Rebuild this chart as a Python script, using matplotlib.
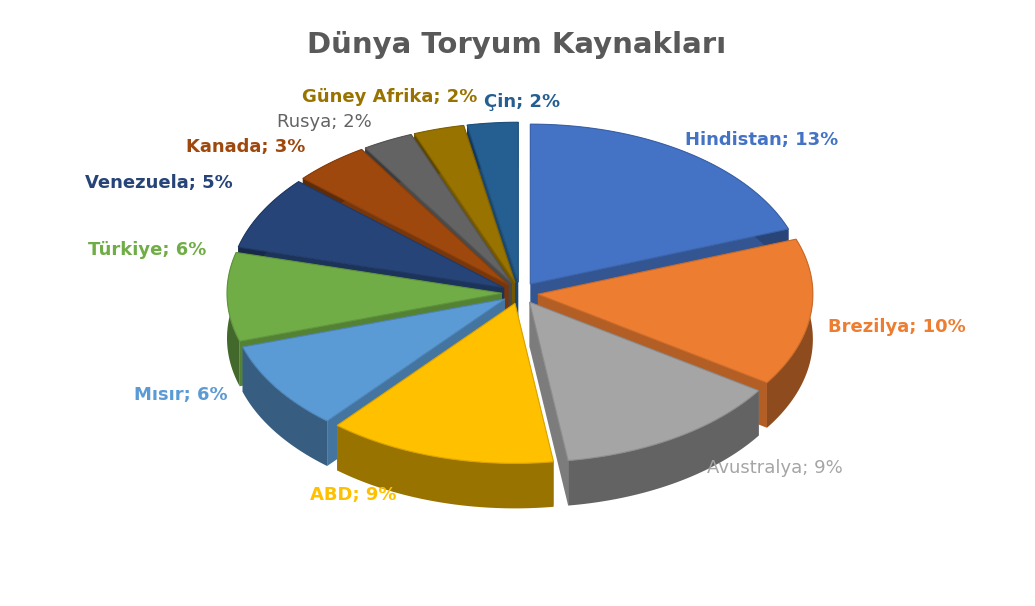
import numpy as np
import matplotlib
matplotlib.use('Agg')
import matplotlib.pyplot as plt
from matplotlib.patches import Polygon
from matplotlib.colors import to_rgb

countries = ['Hindistan', 'Brezilya', 'Avustralya', 'ABD', 'Mısır', 'Türkiye',
             'Venezuela', 'Kanada', 'Rusya', 'Güney Afrika', 'Çin']
shares = [13, 10, 9, 9, 6, 6, 5, 3, 2, 2, 2]
colors = ['#4472C4', '#ED7D31', '#A5A5A5', '#FFC000', '#5B9BD5', '#70AD47',
          '#264478', '#9E480E', '#636363', '#997300', '#255E91']
# label anchor positions (pixels) and alignment
label_pos = [(685, 140, 'left'), (828, 327, 'left'), (707, 468, 'left'),
             (310, 495, 'left'), (228, 395, 'right'), (206, 250, 'right'),
             (233, 183, 'right'), (305, 147, 'right'), (372, 122, 'right'),
             (477, 97, 'right'), (484, 102, 'left')]

fig = plt.figure(figsize=(10.35, 6.06), dpi=100)
ax = fig.add_axes([0, 0, 1, 1])
ax.set_xlim(0, 1035)
ax.set_ylim(606, 0)
ax.axis('off')

cx, cy = 520, 293
rx, ry = 275, 160
depth = 45
explode = 18


def darker(c, f):
    r, g, b = to_rgb(c)
    return (r * f, g * f, b * f)


total = sum(shares)
angles = []
a = 90.0
for s in shares:
    span = 360.0 * s / total
    angles.append((a - span, a))
    a -= span

mids = [np.radians((t1 + t2) / 2) for t1, t2 in angles]
order = sorted(range(len(shares)), key=lambda i: -np.sin(mids[i]))

for i in order:
    t1, t2 = angles[i]
    m = mids[i]
    ox = cx + explode * np.cos(m)
    oy = cy - explode * 0.6 * np.sin(m)
    t = np.radians(np.linspace(t1, t2, 80))
    ax_pts = ox + rx * np.cos(t)
    ay_pts = oy - ry * np.sin(t)
    for tt in (t1, t2):
        tr = np.radians(tt)
        ex, ey = ox + rx * np.cos(tr), oy - ry * np.sin(tr)
        ax.add_patch(Polygon([(ox, oy), (ex, ey), (ex, ey + depth), (ox, oy + depth)],
                             closed=True, fc=darker(colors[i], 0.75), ec='none'))
    rim = list(zip(ax_pts, ay_pts)) + list(zip(ax_pts[::-1], ay_pts[::-1] + depth))
    ax.add_patch(Polygon(rim, closed=True, fc=darker(colors[i], 0.6), ec='none'))
    top = [(ox, oy)] + list(zip(ax_pts, ay_pts))
    ax.add_patch(Polygon(top, closed=True, fc=colors[i], ec=darker(colors[i], 0.85), lw=0.8))

for i, (lx, ly, ha) in enumerate(label_pos):
    weight = 'normal' if countries[i] in ('Avustralya', 'Rusya') else 'bold'
    ax.text(lx, ly, f'{countries[i]}; {shares[i]}%', ha=ha, va='center',
            color=colors[i], fontsize=13, fontweight=weight)

ax.text(517, 45, 'Dünya Toryum Kaynakları', ha='center', va='center',
        fontsize=21, fontweight='bold', color='#595959')

fig.savefig('out.png', dpi=100)
